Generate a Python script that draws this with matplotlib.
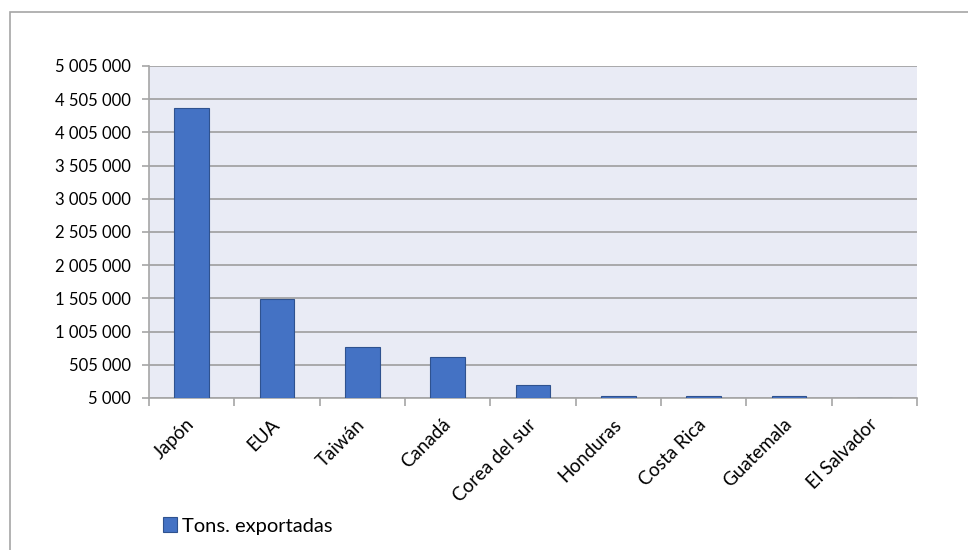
import numpy as np
import matplotlib.pyplot as plt
from matplotlib.patches import Rectangle
from matplotlib.ticker import FuncFormatter

paises = ['Japón', 'EUA', 'Taiwán', 'Canadá', 'Corea del sur',
          'Honduras', 'Costa Rica', 'Guatemala', 'El Salvador']
toneladas = [4373000, 1490000, 778000, 626000, 200000,
             35000, 33000, 33000, 5000]
yticks = np.arange(5000, 5005001, 500000)

plt.rcParams['font.family'] = ['Lato', 'DejaVu Sans']

fig = plt.figure(figsize=(9.68, 5.5), dpi=100)
ax = fig.add_axes([149 / 968, 1 - 398 / 550, (917 - 149) / 968, (398 - 66) / 550])

# outer chart border
fig.patches.append(Rectangle((10 / 968, -0.1), 1.1, 1 - 12 / 550 + 0.1,
                             transform=fig.transFigure, fill=False,
                             edgecolor='#A6A6A6', linewidth=1.2))

x = np.arange(len(paises))
ax.set_facecolor('#E9EBF5')
ax.bar(x, toneladas, width=0.41, bottom=0, color='#4472C4',
       edgecolor='#2F528F', linewidth=0.8, zorder=3, label='Tons. exportadas')

ax.set_ylim(5000, 5005000)
ax.set_xlim(-0.5, len(paises) - 0.5)
ax.set_yticks(yticks)
ax.yaxis.set_major_formatter(FuncFormatter(lambda v, p: f'{int(round(v)):,}'.replace(',', ' ')))
ax.grid(axis='y', color='#9E9E9E', linewidth=1.2, zorder=1)

ax.set_xticks(x)
ax.set_xticklabels(paises, rotation=45, ha='right', va='center',
                   rotation_mode='anchor', fontsize=13.5)
ax.set_xticks(np.arange(-0.5, len(paises)), minor=True)
ax.tick_params(axis='x', which='major', length=0, pad=17)
ax.tick_params(axis='x', which='minor', length=6, color='#A6A6A6', width=1.2)
ax.tick_params(axis='y', length=5, color='#A6A6A6', width=1.2, labelsize=12, pad=8)

for s in ['top', 'right']:
    ax.spines[s].set_visible(False)
for s in ['left', 'bottom']:
    ax.spines[s].set_color('#A6A6A6')
    ax.spines[s].set_linewidth(1.2)

fig.legend(loc='center left', bbox_to_anchor=(145 / 968, 1 - 526 / 550), frameon=False,
           fontsize=14.5, handlelength=0.7, handleheight=0.7, handletextpad=0.25)

fig.savefig('out.png', dpi=100)
